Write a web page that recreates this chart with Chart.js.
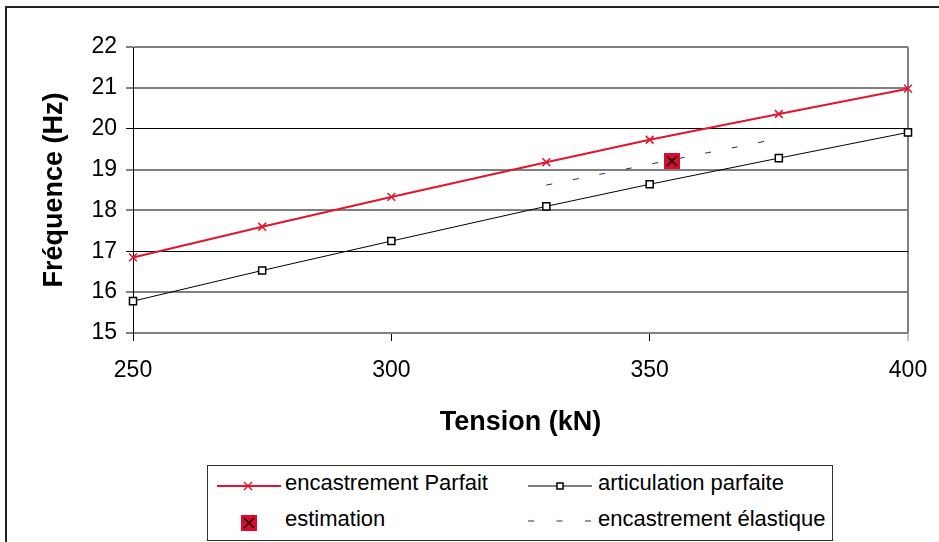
<!DOCTYPE html>
<html>
<head>
<meta charset="utf-8">
<script src="https://cdn.jsdelivr.net/npm/chart.js@4"></script>
<style>
html,body{margin:0;padding:0;background:#fff;}
#wrap{position:relative;width:939px;height:542px;overflow:hidden;font-family:"Liberation Sans",Arial,sans-serif;background:#fff;}
#frame{position:absolute;left:5px;top:6px;width:1000px;height:1000px;border-left:2px solid #222;border-top:2px solid #222;}
#c{position:absolute;left:0;top:0;}
#legend{position:absolute;left:207px;top:465px;width:624px;height:74px;border:1px solid #333;background:#fff;}
#legend svg{position:absolute;left:0;top:0;}
.lt{position:absolute;font-size:22px;line-height:26px;color:#000;white-space:nowrap;}
</style>
</head>
<body>
<div id="wrap">
  <div id="frame"></div>
  <canvas id="c" width="939" height="542"></canvas>
  <div id="legend">
    <svg width="624" height="74" viewBox="0 0 624 74">
      <line x1="9" y1="20" x2="73" y2="20" stroke="#e3142d" stroke-width="2"/>
      <line x1="36" y1="16" x2="44" y2="24" stroke="#e3142d" stroke-width="1.5"/>
      <line x1="36" y1="24" x2="44" y2="16" stroke="#e3142d" stroke-width="1.5"/>
      <line x1="320" y1="20" x2="384" y2="20" stroke="#000" stroke-width="1"/>
      <rect x="349" y="17" width="6" height="6" fill="#fff" stroke="#000" stroke-width="1.5"/>
      <rect x="33" y="49" width="16" height="16" fill="#dc0a2d"/>
      <line x1="36" y1="52" x2="46" y2="62" stroke="#000" stroke-width="1.5"/>
      <line x1="36" y1="62" x2="46" y2="52" stroke="#000" stroke-width="1.5"/>
      <line x1="320" y1="55" x2="384" y2="55" stroke="#262680" stroke-width="1" stroke-dasharray="6,22.5"/>
    </svg>
    <span class="lt" id="l1" style="left:77px;top:4px;"></span>
    <span class="lt" id="l2" style="left:390px;top:4px;"></span>
    <span class="lt" id="l3" style="left:77px;top:40px;"></span>
    <span class="lt" id="l4" style="left:390px;top:40px;"></span>
  </div>
</div>
<script>
// ---- data ----
const tension = [250, 275, 300, 330, 350, 375, 400];
const encastrementParfait = [16.85, 17.60, 18.33, 19.18, 19.73, 20.36, 20.98];
const articulationParfaite = [15.78, 16.53, 17.25, 18.10, 18.64, 19.28, 19.91];
const tensionElastique = [330, 350, 375];
const encastrementElastique = [18.62, 19.13, 19.76];
const estimationTension = [354.3];
const estimationFrequence = [19.21];
const seriesNames = ["encastrement Parfait", "articulation parfaite", "estimation", "encastrement élastique"];
const xTitle = "Tension (kN)";
const yTitle = "Fréquence (Hz)";
const xRange = [250, 400], xStep = 50;
const yRange = [15, 22], yStep = 1;
const darkGridValues = [17, 20];

document.getElementById('l1').textContent = seriesNames[0];
document.getElementById('l2').textContent = seriesNames[1];
document.getElementById('l3').textContent = seriesNames[2];
document.getElementById('l4').textContent = seriesNames[3];

const pts = (xs, ys) => xs.map((x, i) => ({x: x, y: ys[i]}));

// estimation marker: red square with black X
const est = document.createElement('canvas');
est.width = 16; est.height = 16;
(function(){
  const g = est.getContext('2d');
  g.fillStyle = '#dc0a2d'; g.fillRect(0, 0, 16, 16);
  g.strokeStyle = '#000'; g.lineWidth = 1.6;
  g.beginPath(); g.moveTo(3, 3); g.lineTo(13, 13); g.moveTo(13, 3); g.lineTo(3, 13); g.stroke();
})();

const FONT = "'Liberation Sans', Arial, sans-serif";
const isDark = c => c.tick && darkGridValues.includes(c.tick.value);

new Chart(document.getElementById('c'), {
  type: 'line',
  data: {
    datasets: [
      { label: seriesNames[2], data: pts(estimationTension, estimationFrequence), showLine: false,
        pointStyle: est, pointRadius: 8, order: 0, clip: false },
      { label: seriesNames[0], data: pts(tension, encastrementParfait), borderColor: '#e3142d', borderWidth: 2,
        pointStyle: 'crossRot', pointRadius: 5.5, pointBorderWidth: 1.5, pointBorderColor: '#e3142d',
        pointBackgroundColor: '#e3142d', tension: 0, order: 1, clip: false },
      { label: seriesNames[1], data: pts(tension, articulationParfaite), borderColor: '#000', borderWidth: 1,
        pointStyle: 'rect', pointRadius: 5, pointBorderWidth: 1.5, pointBorderColor: '#000',
        pointBackgroundColor: '#fff', tension: 0, order: 2, clip: false },
      { label: seriesNames[3], data: pts(tensionElastique, encastrementElastique), borderColor: '#262680', borderWidth: 1,
        borderDash: [6, 21], pointRadius: 0, tension: 0, order: 3 }
    ]
  },
  options: {
    responsive: false,
    animation: false,
    devicePixelRatio: 1,
    layout: { padding: { top: 47, right: 31, left: 0, bottom: 0 } },
    plugins: { legend: { display: false }, tooltip: { enabled: false } },
    events: [],
    scales: {
      x: {
        type: 'linear', min: xRange[0], max: xRange[1],
        afterFit: s => { s.height = 209; s.paddingLeft = 0; s.paddingRight = 0; },
        ticks: { stepSize: xStep, color: '#000', font: { family: FONT, size: 23 }, padding: 16, maxRotation: 0 },
        grid: {
          drawOnChartArea: true,
          color: c => (c.tick && c.tick.value === xRange[1]) ? '#808080' : 'rgba(0,0,0,0)',
          lineWidth: c => (c.tick && c.tick.value === xRange[1]) ? 2 : 1,
          tickColor: c => (c.tick && c.tick.value === xRange[1]) ? '#808080' : '#000',
          tickWidth: 1, tickLength: 8
        },
        border: { display: false },
        title: { display: true, text: xTitle, color: '#000', font: { family: FONT, size: 27, weight: 'bold' },
                 padding: { top: 0, bottom: 103 } }
      },
      y: {
        type: 'linear', min: yRange[0], max: yRange[1],
        afterFit: s => { s.width = 133; s.paddingTop = 0; s.paddingBottom = 0; },
        ticks: { stepSize: yStep, color: '#000', font: { family: FONT, size: 23 }, padding: 9 },
        grid: {
          color: c => isDark(c) ? '#000' : '#808080',
          lineWidth: c => isDark(c) ? 1 : 2,
          tickColor: '#000', tickWidth: 1, tickLength: 7
        },
        border: { display: true, color: '#000', width: 1 },
        title: { display: true, text: yTitle, color: '#000', font: { family: FONT, size: 27, weight: 'bold' },
                 padding: { top: 38, bottom: 0 } }
      }
    }
  }
});
</script>
</body>
</html>
